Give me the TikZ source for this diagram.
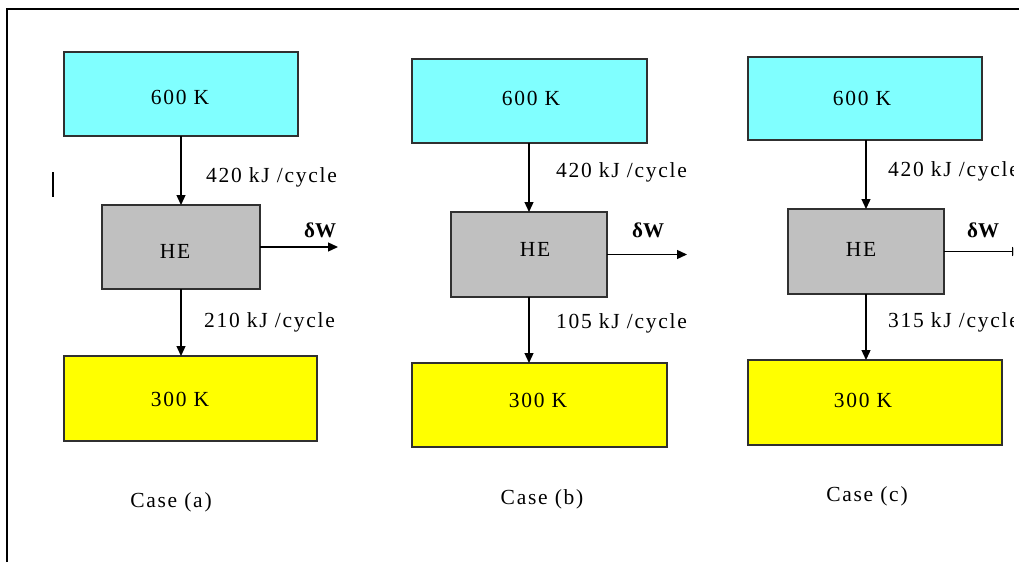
\documentclass[tikz,border=0pt]{standalone}
\usepackage{fontspec}
\setmainfont{Liberation Serif}[LetterSpace=8]
\newfontfamily\tightserif{Liberation Serif}
\usetikzlibrary{arrows.meta}
\definecolor{hotc}{HTML}{80FFFF}
\definecolor{hec}{HTML}{C0C0C0}
\definecolor{coldc}{HTML}{FFFF00}
\definecolor{edgec}{HTML}{303030}
\tikzset{
  box/.style={draw=edgec, line width=1.3pt, inner sep=0pt, outer sep=0pt},
  hotbox/.style={box, fill=hotc},
  hebox/.style={box, fill=hec},
  coldbox/.style={box, fill=coldc},
  txt/.style={inner sep=0pt, font=\fontsize{21.5}{25}\selectfont},
  lbl/.style={txt, anchor=west},
  wlbl/.style={inner sep=0pt, anchor=west, font=\tightserif\fontsize{21}{25}\selectfont\bfseries},
  flow/.style={line width=1.3pt, -{Triangle[length=10pt,width=9pt]}},
}
\begin{document}
\begin{tikzpicture}[x=1pt,y=-1pt]
\fill[white] (0,0) rectangle (1019,562);
\useasboundingbox (0,0) rectangle (1019,562);
% frame
\draw[line width=2.5pt] (7,562) -- (7,9) -- (1019,9);
% stray mark
\draw[line width=2.5pt] (53,172) -- (53,197);
\begin{scope}
\clip (0,0) rectangle (1013,562);
% ---------- Case (a)
\node[hotbox, minimum width=234pt, minimum height=84pt] (ha) at (181,94) {};
\node[hebox, minimum width=158pt, minimum height=84pt] (ea) at (181,247) {};
\node[coldbox, minimum width=253pt, minimum height=85pt] (ca) at (190.5,398.5) {};
\node[txt] (hta) at (180,97) {600 K};
\node[txt] (eta) at (175,251) {HE};
\node[txt] (cta) at (180,399) {300 K};
\draw[flow] (ha.south) -- (ea.north);
\draw[flow] (ea.south) -- (ea.south |- ca.north);
\coordinate (wa) at (338,247);
\draw[flow] (ea.east) -- (wa);
\node[lbl] (qha) at (206,177) {420 kJ /cycle};
\node[lbl] (qca) at (204,322) {210 kJ /cycle};
\node[wlbl] (dwa) at (304,230) {δW};
\node[txt] (casea) at (171,502) {Case (a)};
% ---------- Case (b)
\node[hotbox, minimum width=235pt, minimum height=84pt] (hb) at (529.5,101) {};
\node[hebox, minimum width=156pt, minimum height=85pt] (eb) at (529,254.5) {};
\node[coldbox, minimum width=255pt, minimum height=84pt] (cb) at (539.5,405) {};
\node[txt] (htb) at (531,98) {600 K};
\node[txt] (etb) at (535,249) {HE};
\node[txt] (ctb) at (538,400) {300 K};
\draw[flow] (eb.north |- hb.south) -- (eb.north);
\draw[flow] (eb.south) -- (eb.south |- cb.north);
\coordinate (wb) at (687,254.5);
\draw[flow] (eb.east) -- (wb);
\node[lbl] (qhb) at (556,172) {420 kJ /cycle};
\node[lbl] (qcb) at (556,323) {105 kJ /cycle};
\node[wlbl] (dwb) at (632,230) {δW};
\node[txt] (caseb) at (542,499) {Case (b)};
% ---------- Case (c)
\node[hotbox, minimum width=234pt, minimum height=83pt] (hc) at (865,98.5) {};
\node[hebox, minimum width=156pt, minimum height=85pt] (ec) at (866,251.5) {};
\node[coldbox, minimum width=254pt, minimum height=85pt] (cc) at (875,402.5) {};
\node[txt] (htc) at (862,98) {600 K};
\node[txt] (etc) at (861,249) {HE};
\node[txt] (ctc) at (863,400) {300 K};
\draw[flow] (ec.north |- hc.south) -- (ec.north);
\draw[flow] (ec.south) -- (ec.south |- cc.north);
\coordinate (wc) at (1022,251.5);
\draw[flow] (ec.east) -- (wc);
\node[lbl] (qhc) at (888,171) {420 kJ /cycle};
\node[lbl] (qcc) at (888,322) {315 kJ /cycle};
\node[wlbl] (dwc) at (967,230) {δW};
\node[txt] (casec) at (867,496) {Case (c)};
\end{scope}
\end{tikzpicture}
\end{document}
